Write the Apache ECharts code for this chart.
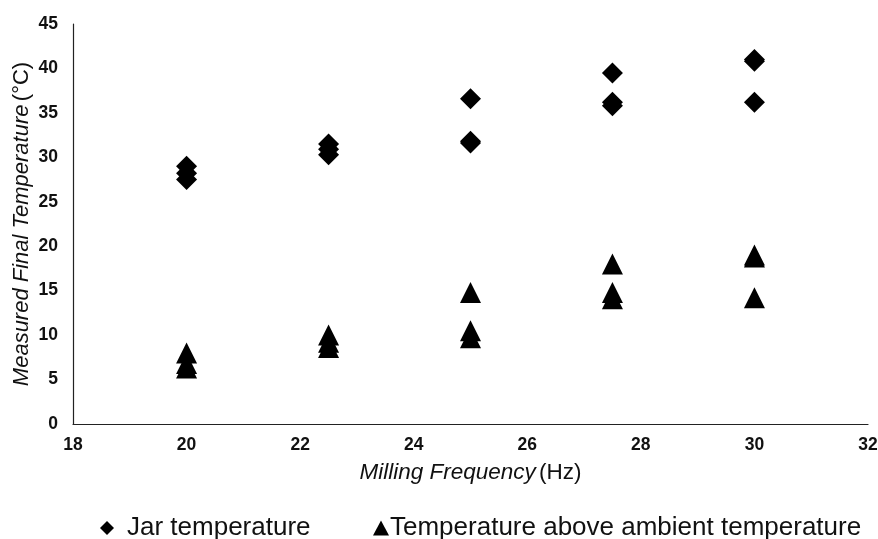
<!DOCTYPE html>
<html>
<head>
<meta charset="utf-8">
<script src="https://cdn.jsdelivr.net/npm/echarts@6/dist/echarts.min.js"></script>
<style>
  html, body { margin: 0; padding: 0; background: #fff; }
  #chart { width: 878px; height: 539px; }
</style>
</head>
<body>
<div id="chart"></div>
<script>
// Milling frequency (Hz) for each measurement
const jarFreq = [20, 20, 20, 22.5, 22.5, 22.5, 25, 25, 25, 27.5, 27.5, 27.5, 30, 30, 30];
// Final jar temperature (°C)
const jarTemp = [29, 28.2, 27.5, 31.5, 30.9, 30.3, 36.6, 31.8, 31.6, 39.5, 36.2, 35.8, 41, 40.8, 36.2];

const ambFreq = [20, 20, 20, 22.5, 22.5, 22.5, 25, 25, 25, 27.5, 27.5, 27.5, 30, 30, 30];
// Temperature rise above ambient (°C)
const ambTemp = [8, 6.8, 6.3, 10, 9.2, 8.6, 14.8, 10.5, 9.7, 18, 14.8, 14.1, 19, 18.8, 14.2];

const xTicks = { min: 18, max: 32, interval: 2 };
const yTicks = { min: 0, max: 45, interval: 5 };

const seriesNames = ['Jar temperature', 'Temperature above ambient temperature'];

const pairs = (xs, ys) => xs.map((x, i) => [x, ys[i]]);

const FONT = '"Liberation Sans", Arial, sans-serif';

const chart = echarts.init(document.getElementById('chart'), null, { renderer: 'canvas' });

chart.setOption({
  backgroundColor: '#ffffff',
  animation: false,
  grid: { left: 73, right: 10, top: 24, bottom: 115, containLabel: false, outerBoundsMode: 'none' },
  xAxis: {
    type: 'value',
    min: xTicks.min, max: xTicks.max, interval: xTicks.interval,
    name: '{i|Milling Frequency} {n|(Hz)}',
    nameLocation: 'middle',
    nameGap: 37,
    nameMoveOverlap: false,
    nameTextStyle: {
      rich: {
        i: { fontFamily: FONT, fontSize: 22.5, fontStyle: 'italic', color: '#111' },
        n: { fontFamily: FONT, fontSize: 22.5, color: '#111' }
      }
    },
    axisLine: { lineStyle: { color: '#222', width: 1.2 } },
    axisTick: { show: false },
    splitLine: { show: false },
    axisLabel: { fontFamily: FONT, fontSize: 17.5, fontWeight: 'bold', color: '#111', margin: 12 }
  },
  yAxis: {
    type: 'value',
    min: yTicks.min, max: yTicks.max, interval: yTicks.interval,
    name: '{i|Measured Final Temperature} {n|(°C)}',
    nameLocation: 'middle',
    nameGap: 40,
    nameMoveOverlap: false,
    nameRotate: 90,
    nameTextStyle: {
      rich: {
        i: { fontFamily: FONT, fontSize: 22, fontStyle: 'italic', color: '#111' },
        n: { fontFamily: FONT, fontSize: 22, color: '#111' }
      }
    },
    axisLine: { show: true, lineStyle: { color: '#222', width: 1.2 } },
    axisTick: { show: false },
    splitLine: { show: false },
    axisLabel: { fontFamily: FONT, fontSize: 17.5, fontWeight: 'bold', color: '#111', margin: 15 }
  },
  legend: [
    {
      data: [{ name: seriesNames[0], icon: 'diamond' }],
      left: 95, top: 510,
      itemWidth: 14, itemHeight: 14,
      textStyle: { fontFamily: FONT, fontSize: 26, color: '#111', padding: [0, 0, 0, 8] }
    },
    {
      data: [{ name: seriesNames[1], icon: 'triangle' }],
      left: 368, top: 510,
      itemWidth: 16, itemHeight: 15,
      itemGap: 0,
      textStyle: { fontFamily: FONT, fontSize: 26, color: '#111', padding: [0, 0, 0, -4] }
    }
  ],
  series: [
    {
      name: seriesNames[0],
      type: 'scatter',
      symbol: 'diamond',
      symbolSize: 21,
      itemStyle: { color: '#000', opacity: 1 },
      data: pairs(jarFreq, jarTemp)
    },
    {
      name: seriesNames[1],
      type: 'scatter',
      symbol: 'triangle',
      symbolSize: 21,
      itemStyle: { color: '#000', opacity: 1 },
      data: pairs(ambFreq, ambTemp)
    }
  ]
});
</script>
</body>
</html>
